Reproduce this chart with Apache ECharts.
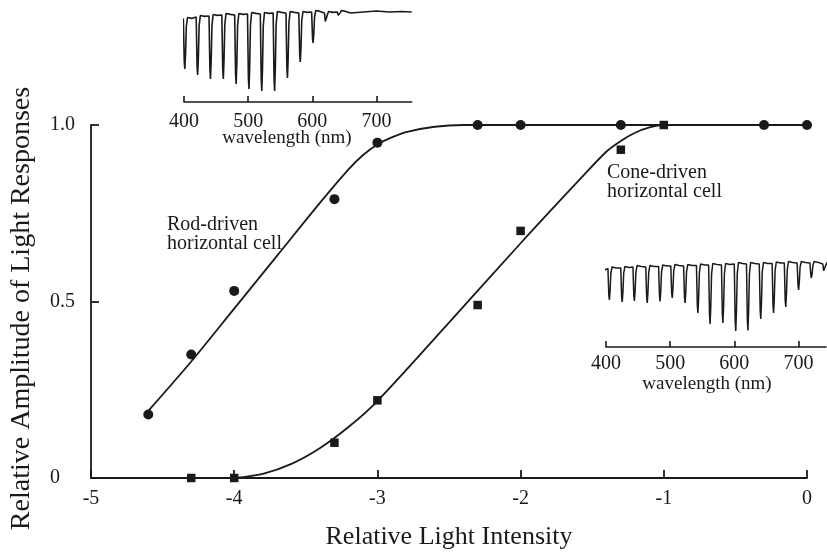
<!DOCTYPE html>
<html>
<head>
<meta charset="utf-8">
<script src="https://cdn.jsdelivr.net/npm/echarts@6/dist/echarts.min.js"></script>
<style>
html,body{margin:0;padding:0;background:#fff;}
#c{width:827px;height:555px;}
</style>
</head>
<body>
<div id="c"></div>
<script>
// ---- main chart data ----
var xTicks = [-5, -4, -3, -2, -1, 0];
var yTickLabels = {0: '0', 0.5: '0.5', 1: '1.0'};

var rodX = [-4.6, -4.3, -4.0, -3.3, -3.0, -2.3, -2.0, -1.3, -0.3, 0];
var rodY = [0.18, 0.35, 0.53, 0.79, 0.95, 1.0, 1.0, 1.0, 1.0, 1.0];

var coneX = [-4.3, -4.0, -3.3, -3.0, -2.3, -2.0, -1.3, -1.0];
var coneY = [0.0, 0.0, 0.10, 0.22, 0.49, 0.70, 0.93, 1.0];

var rodFitX = [-4.6, -4.3, -4.0, -3.7, -3.4, -3.2, -3.1, -3.0, -2.9, -2.8, -2.6, -2.4, -2.2, 0];
var rodFitY = [0.19, 0.33, 0.48, 0.63, 0.78, 0.875, 0.915, 0.945, 0.965, 0.98, 0.995, 1.0, 1.0, 1.0];

var coneFitX = [-4.0, -3.8, -3.6, -3.4, -3.2, -3.0, -2.5, -2.0, -1.6, -1.4, -1.3, -1.2, -1.1, -1.0, 0];
var coneFitY = [0.0, 0.012, 0.04, 0.085, 0.145, 0.218, 0.44, 0.665, 0.84, 0.925, 0.955, 0.978, 0.993, 1.0, 1.0];

// ---- inset 1 (rod) trace: spike wavelengths, baseline level and spike bottom ----
var inset1Ticks = [400, 500, 600, 700];
var inset1Start = [395, -1];
var inset1Wl = [400, 420, 440, 460, 480, 500, 520, 540, 560, 580, 600, 620, 640];
var inset1Top = [-1, 1, 2, 3, 3, 4, 4, 5, 5, 5, 6, 5, 6];
var inset1Bottom = [-51, -57, -61, -61, -66, -71, -73, -73, -60, -44, -25, -5, 2];
var inset1Tail = [[660, 5], [680, 6], [700, 7], [720, 6], [740, 6.5], [755, 6]];

// ---- inset 2 (cone) trace ----
var inset2Ticks = [400, 500, 600, 700];
var inset2Start = [398, 0];
var inset2Wl = [404, 424, 443, 463, 483, 502, 522, 542, 561, 581, 601, 620, 640, 660, 679, 699, 719, 739];
var inset2Top = [1.5, 2, 3, 3, 3.5, 4, 4, 4.5, 5, 5, 6, 6, 6, 6.5, 7, 7, 7, 6];
var inset2Bottom = [-30, -32, -31, -33, -31.5, -28, -33, -43, -54, -53, -61, -60.5, -49, -43, -37, -20, -8, -2];
var inset2Tail = [[743, 6]];

function zip(xs, ys) { return xs.map(function (x, i) { return [x, ys[i]]; }); }

function buildTrace(start, wl, top, bottom, tail) {
  var pts = [start];
  for (var i = 0; i < wl.length; i++) {
    var w = wl[i], t = top[i], b = bottom[i];
    pts.push([w - 1, t]);
    pts.push([w + 0.4, b + (t - b) * 0.15]);
    pts.push([w + 1.3, b]);
    pts.push([w + 2.4, b + (t - b) * 0.3]);
    pts.push([w + 3.6, b + (t - b) * 0.85]);
    pts.push([w + 5.5, t + 1.5]);
    pts.push([w + 12, t + 0.6]);
  }
  return pts.concat(tail);
}

var INK = '#1a1a1a';
var FONT = 'Liberation Serif';

var chart = echarts.init(document.getElementById('c'));

var insetXAxis = function (gridIndex, ticks, margin) {
  return {
    type: 'value', gridIndex: gridIndex, min: 400, max: gridIndex === 1 ? 755 : 743,
    axisLine: { show: true, onZero: false, lineStyle: { color: INK, width: 1.6 } },
    axisTick: { show: true, inside: true, length: 6, lineStyle: { color: INK, width: 1.6 }, customValues: ticks },
    axisLabel: { show: true, margin: margin, fontFamily: FONT, fontSize: 20, lineHeight: 20, color: INK, customValues: ticks },
    splitLine: { show: false }
  };
};
var insetYAxis = function (gridIndex, min, max) {
  return { type: 'value', gridIndex: gridIndex, min: min, max: max, show: false,
    axisLine: { onZero: false }, splitLine: { show: false } };
};

var option = {
  backgroundColor: '#fff',
  animation: false,
  grid: [
    { left: 91, right: 20, top: 125, bottom: 74 },
    { left: 184, width: 227.7, top: 5, height: 97 },
    { left: 606, width: 220, top: 250, height: 97 }
  ],
  xAxis: [
    {
      type: 'value', gridIndex: 0, min: -5, max: 0, interval: 1,
      name: 'Relative Light Intensity', nameLocation: 'middle', nameGap: 46,
      nameTextStyle: { fontFamily: FONT, fontSize: 26, lineHeight: 26, color: INK },
      axisLine: { show: true, onZero: false, lineStyle: { color: INK, width: 1.8 } },
      axisTick: { show: true, inside: true, length: 8, lineStyle: { color: INK, width: 1.8 } },
      axisLabel: { margin: 11, fontFamily: FONT, fontSize: 20, lineHeight: 20, color: INK,
        formatter: function (v) { return String(v); } },
      splitLine: { show: false }
    },
    insetXAxis(1, inset1Ticks, 10),
    insetXAxis(2, inset2Ticks, 7)
  ],
  yAxis: [
    {
      type: 'value', gridIndex: 0, min: 0, max: 1, interval: 0.5,
      axisLine: { show: true, onZero: false, lineStyle: { color: INK, width: 1.8 } },
      axisTick: { show: true, inside: true, length: 8, lineStyle: { color: INK, width: 1.8 } },
      axisLabel: { margin: 41, align: 'left', fontFamily: FONT, fontSize: 20, color: INK,
        formatter: function (v) { return yTickLabels[v]; } },
      splitLine: { show: false }
    },
    insetYAxis(1, -84, 13),
    insetYAxis(2, -77, 20)
  ],
  graphic: [
    {
      type: 'text', x: 22, y: 308.5, rotation: Math.PI / 2,
      style: { text: 'Relative Amplitude of Light Responses', font: '28px "Liberation Serif"', fill: INK,
        align: 'center', verticalAlign: 'middle' }
    },
    {
      type: 'text', x: 167, y: 214.5,
      style: { text: 'Rod-driven\nhorizontal cell', font: '20px "Liberation Serif"', lineHeight: 19.5, fill: INK,
        align: 'left', verticalAlign: 'top' }
    },
    {
      type: 'text', x: 607, y: 162.5,
      style: { text: 'Cone-driven\nhorizontal cell', font: '20px "Liberation Serif"', lineHeight: 19.5, fill: INK,
        align: 'left', verticalAlign: 'top' }
    },
    {
      type: 'text', x: 287, y: 138.5,
      style: { text: 'wavelength (nm)', font: '19px "Liberation Serif"', fill: INK, align: 'center', verticalAlign: 'middle' }
    },
    {
      type: 'text', x: 707, y: 384.5,
      style: { text: 'wavelength (nm)', font: '19px "Liberation Serif"', fill: INK, align: 'center', verticalAlign: 'middle' }
    }
  ],
  series: [
    {
      type: 'line', xAxisIndex: 0, yAxisIndex: 0, data: zip(rodFitX, rodFitY),
      smooth: 0.3, showSymbol: false, symbol: 'none',
      lineStyle: { color: INK, width: 1.8 }, z: 2
    },
    {
      type: 'line', xAxisIndex: 0, yAxisIndex: 0, data: zip(coneFitX, coneFitY),
      smooth: 0.3, showSymbol: false, symbol: 'none',
      lineStyle: { color: INK, width: 1.8 }, z: 2
    },
    {
      type: 'scatter', xAxisIndex: 0, yAxisIndex: 0, data: zip(rodX, rodY),
      symbol: 'circle', symbolSize: 10, itemStyle: { color: INK, opacity: 1 }, z: 3
    },
    {
      type: 'scatter', xAxisIndex: 0, yAxisIndex: 0, data: zip(coneX, coneY),
      symbol: 'rect', symbolSize: 8.5, itemStyle: { color: INK, opacity: 1 }, z: 4
    },
    {
      type: 'line', xAxisIndex: 1, yAxisIndex: 1, clip: false,
      data: buildTrace(inset1Start, inset1Wl, inset1Top, inset1Bottom, inset1Tail),
      showSymbol: false, symbol: 'none', lineStyle: { color: INK, width: 1.6 }
    },
    {
      type: 'line', xAxisIndex: 2, yAxisIndex: 2, clip: false,
      data: buildTrace(inset2Start, inset2Wl, inset2Top, inset2Bottom, inset2Tail),
      showSymbol: false, symbol: 'none', lineStyle: { color: INK, width: 1.5 }
    }
  ]
};
chart.setOption(option);
</script>
</body>
</html>
